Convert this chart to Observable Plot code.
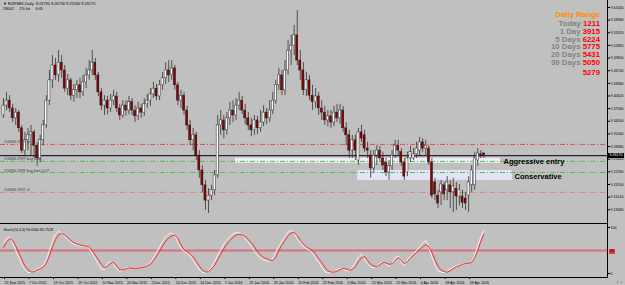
<!DOCTYPE html>
<html><head><meta charset="utf-8">
<script src="https://cdn.jsdelivr.net/npm/d3@7"></script>
<script src="https://cdn.jsdelivr.net/npm/@observablehq/plot@0.6"></script>
<style>
html,body{margin:0;padding:0;background:#c0c0c0;}
#wrap{position:relative;width:625px;height:285px;overflow:hidden;background:#c0c0c0;font-family:"Liberation Sans",Arial,sans-serif;}
#main,#stoch{position:absolute;left:0;}
#main{top:0}
#stoch{top:224px}
.ov{position:absolute;white-space:nowrap;line-height:1;}
.hdr{font-size:3.9px;color:#000;left:3px;}
.dr{font-size:7.8px;font-weight:bold;right:25px;}
.g{color:#808080}.r{color:#ff0000}
.sep{position:absolute;left:0;width:608px;height:1px;background:#000;}
.box{position:absolute;font-size:3.6px;line-height:5px;height:5px;text-align:center;}
</style></head><body>
<div id="wrap">
  <div id="main"></div>
  <div id="stoch"></div>
  <div class="sep" style="top:223px"></div>
  <div class="sep" style="top:277px"></div>
  <div class="ov hdr" style="top:2px">&#9660; EURSEK,Daily&nbsp; 9.26730 9.26730 9.25530 9.26170</div>
  <div class="ov hdr" style="top:7px">18002&nbsp;&nbsp;&nbsp;&nbsp; 2% hit&nbsp;&nbsp;&nbsp;&nbsp; 6:05</div>
  <div class="ov dr" style="top:11px;color:#ff8c00">Daily Range</div>
  <div class="ov dr" style="top:20px"><span class="g">Today </span><span class="r">1211</span></div>
  <div class="ov dr" style="top:28px"><span class="g">1 Day </span><span class="r">3915</span></div>
  <div class="ov dr" style="top:35.5px"><span class="g">5 Days </span><span class="r">6224</span></div>
  <div class="ov dr" style="top:43px"><span class="g">10 Days </span><span class="r">5775</span></div>
  <div class="ov dr" style="top:51px"><span class="g">20 Days </span><span class="r">5431</span></div>
  <div class="ov dr" style="top:58.5px"><span class="g">30 Days </span><span class="r">5050</span></div>
  <div class="ov dr" style="top:69px"><span class="r">5279</span></div>
  <div class="box" style="left:608px;top:152.5px;width:16px;background:#000;color:#fff;">9.26170</div>
  <div class="box" style="left:609px;top:248.5px;width:6px;background:#e03a3a;color:#000;">50</div>
</div>
<script>
// ---- data (EURSEK daily) ----
const open=[9.359,9.383,9.395,9.376,9.352,9.366,9.328,9.274,9.299,9.311,
9.318,9.286,9.255,9.299,9.335,9.395,9.444,9.480,9.456,9.487,
9.468,9.424,9.444,9.407,9.420,9.432,9.415,9.439,9.456,9.468,
9.487,9.456,9.415,9.383,9.395,9.376,9.395,9.405,9.376,9.359,
9.383,9.371,9.391,9.371,9.357,9.376,9.366,9.386,9.395,9.410,
9.424,9.405,9.432,9.449,9.468,9.456,9.473,9.432,9.395,9.407,
9.371,9.335,9.299,9.311,9.262,9.226,9.190,9.153,9.165,9.178,
9.214,9.335,9.347,9.323,9.352,9.371,9.359,9.383,9.395,9.371,
9.352,9.335,9.323,9.347,9.328,9.342,9.366,9.352,9.371,9.395,
9.432,9.456,9.420,9.468,9.516,9.528,9.553,9.492,9.468,9.420,
9.444,9.407,9.391,9.405,9.376,9.366,9.347,9.357,9.342,9.366,
9.352,9.371,9.328,9.311,9.274,9.299,9.250,9.318,9.311,9.279,
9.262,9.231,9.262,9.274,9.255,9.245,9.221,9.236,9.262,9.286,
9.270,9.245,9.221,9.255,9.255,9.265,9.274,9.294,9.279,9.279,
9.245,9.197,9.165,9.173,9.190,9.178,9.190,9.173,9.182,9.163,
9.163,9.158,9.165,9.190,9.190,9.250,9.265,9.2673];
const high=[9.400,9.415,9.407,9.386,9.376,9.371,9.335,9.318,9.328,9.335,
9.323,9.294,9.311,9.347,9.407,9.468,9.504,9.497,9.516,9.504,
9.480,9.458,9.449,9.434,9.444,9.449,9.456,9.473,9.492,9.516,
9.497,9.463,9.424,9.407,9.405,9.410,9.420,9.415,9.386,9.395,
9.395,9.405,9.400,9.383,9.391,9.386,9.400,9.410,9.424,9.439,
9.434,9.444,9.463,9.487,9.492,9.492,9.480,9.439,9.420,9.415,
9.381,9.347,9.328,9.318,9.274,9.238,9.202,9.182,9.190,9.226,
9.359,9.371,9.359,9.366,9.391,9.395,9.400,9.415,9.405,9.386,
9.366,9.352,9.359,9.357,9.371,9.383,9.376,9.395,9.415,9.444,
9.473,9.468,9.492,9.541,9.553,9.577,9.613,9.516,9.487,9.463,
9.456,9.432,9.424,9.415,9.395,9.381,9.371,9.371,9.381,9.386,
9.386,9.381,9.342,9.323,9.311,9.311,9.328,9.335,9.323,9.294,
9.274,9.274,9.286,9.284,9.270,9.255,9.250,9.274,9.299,9.299,
9.279,9.255,9.270,9.284,9.279,9.294,9.306,9.303,9.299,9.286,
9.255,9.207,9.178,9.202,9.197,9.211,9.202,9.207,9.197,9.192,
9.178,9.173,9.211,9.238,9.270,9.279,9.274,9.2673];
const low=[9.352,9.371,9.366,9.342,9.335,9.318,9.267,9.262,9.274,9.262,
9.255,9.236,9.245,9.286,9.328,9.383,9.424,9.444,9.439,9.449,
9.415,9.407,9.395,9.391,9.400,9.400,9.405,9.424,9.444,9.456,
9.444,9.405,9.371,9.359,9.361,9.366,9.383,9.366,9.347,9.352,
9.357,9.361,9.359,9.342,9.347,9.352,9.357,9.376,9.381,9.400,
9.395,9.395,9.420,9.434,9.439,9.444,9.420,9.383,9.376,9.359,
9.323,9.286,9.274,9.250,9.207,9.173,9.129,9.122,9.153,9.165,
9.207,9.311,9.303,9.311,9.335,9.342,9.347,9.371,9.361,9.337,
9.323,9.308,9.311,9.313,9.318,9.332,9.337,9.342,9.361,9.386,
9.420,9.407,9.407,9.456,9.480,9.504,9.480,9.444,9.407,9.405,
9.395,9.371,9.376,9.359,9.347,9.335,9.332,9.328,9.332,9.342,
9.337,9.318,9.286,9.255,9.255,9.250,9.238,9.294,9.270,9.255,
9.207,9.221,9.238,9.245,9.226,9.211,9.202,9.226,9.255,9.260,
9.236,9.202,9.211,9.245,9.250,9.255,9.262,9.270,9.260,9.238,
9.158,9.153,9.134,9.141,9.153,9.153,9.134,9.124,9.129,9.141,
9.134,9.129,9.124,9.173,9.178,9.236,9.255,9.2553];
const close=[9.383,9.395,9.376,9.352,9.366,9.328,9.274,9.299,9.311,9.318,
9.286,9.255,9.299,9.335,9.395,9.444,9.480,9.456,9.487,9.468,
9.424,9.444,9.407,9.420,9.432,9.415,9.439,9.456,9.468,9.487,
9.456,9.415,9.383,9.395,9.376,9.395,9.405,9.376,9.359,9.383,
9.371,9.391,9.371,9.357,9.376,9.366,9.386,9.395,9.410,9.424,
9.405,9.432,9.449,9.468,9.456,9.473,9.432,9.395,9.407,9.371,
9.335,9.299,9.311,9.262,9.226,9.190,9.153,9.165,9.178,9.214,
9.335,9.347,9.323,9.352,9.371,9.359,9.383,9.395,9.371,9.352,
9.335,9.323,9.347,9.328,9.342,9.366,9.352,9.371,9.395,9.432,
9.456,9.420,9.468,9.516,9.528,9.553,9.492,9.468,9.420,9.444,
9.407,9.391,9.405,9.376,9.366,9.347,9.357,9.342,9.366,9.352,
9.371,9.328,9.311,9.274,9.299,9.274,9.318,9.303,9.279,9.274,
9.231,9.262,9.274,9.255,9.238,9.221,9.236,9.262,9.286,9.274,
9.245,9.211,9.255,9.270,9.265,9.279,9.294,9.279,9.286,9.245,
9.165,9.168,9.146,9.192,9.168,9.197,9.173,9.187,9.163,9.178,
9.148,9.146,9.197,9.226,9.255,9.267,9.260,9.2617];
const stochMain=[66,76,80,66,50,35,18,8,2,2,
6,10,12,18,30,50,70,86,92,88,
80,74,68,64,62,60,58,62,54,44,
32,20,10,8,22,26,20,10,4,8,
12,12,10,10,13,14,15,18,24,34,
46,58,70,80,86,88,82,68,54,48,
45,38,28,18,8,2,1,6,14,26,
40,52,64,72,80,86,90,88,84,76,
68,58,48,40,34,30,28,26,32,46,
60,70,80,90,94,86,76,66,58,54,
50,44,34,24,14,4,1,2,4,8,
12,10,6,6,14,24,36,42,32,20,
14,12,16,22,26,20,16,22,34,38,
24,16,30,38,44,50,58,66,72,56,
36,18,6,3,2,5,10,14,17,19,
21,22,21,26,40,60,80,94.06];
const stochSignal=[56,68,76,72,60,45,30,17,8,3,
4,8,10,14,22,38,58,74,84,87,
84,78,72,67,64,62,60,60,58,50,
40,30,20,12,16,22,24,16,8,8,
10,12,11,10,12,13,14,16,20,28,
38,48,60,70,77,82,83,76,62,52,
47,43,36,26,16,8,3,4,10,18,
30,42,54,64,72,78,83,85,84,80,
74,67,58,48,40,35,32,29,28,36,
50,62,72,82,88,89,82,72,64,58,
54,50,42,32,24,14,6,3,3,5,
9,11,10,7,9,15,26,34,37,28,
20,16,15,19,24,23,20,21,28,35,
28,21,26,33,40,45,52,58,63,58,
46,30,16,8,4,3,6,11,15,17,
20,22,22,24,34,50,70,85.75];
const dateLabels=["25 Sep 2015","7 Oct 2015","19 Oct 2015","29 Oct 2015","10 Nov 2015","20 Nov 2015","2 Dec 2015","14 Dec 2015","24 Dec 2015","7 Jan 2016","19 Jan 2016","29 Jan 2016","10 Feb 2016","22 Feb 2016","3 Mar 2016","15 Mar 2016","25 Mar 2016","6 Apr 2016","18 Apr 2016","28 Apr 2016"];
const dateTickBars=[0,8,16,24,32,40,48,56,64,72,80,88,96,104,112,120,128,136,144,152];
const priceTicks=[9.6204,9.5898,9.5592,9.5286,9.4980,9.4674,9.4368,9.4062,9.3756,9.3450,9.3144,9.2838,9.2532,9.2226,9.1920,9.1614,9.1308];
const stochTicks=[0,100];
const orderPrices=[9.289,9.248,9.221,9.173];
const orderLabels=["#16490.2997 tp","#16490.2997 buy 0.50","#16490.2999 buy limit 0.07","#16490.2997 sl"];
const zoneLabels=["Aggressive entry","Conservative"];
const zoneBarStart=[75.8,115.7], zoneBarEnd=[162.4,166.3];
const zoneTop=[9.2555,9.226], zoneBottom=[9.2433,9.202];
const zoneLabelBar=[163.4,167.0], zoneLabelPrice=[9.248,9.211];

// ---- styles ----
const orderColors=["#e84a4a","#4cc04c","#4cc04c","#e07a7a"];
const zoneFills=["#eeeef6","#e4e4f8"];
const xDomain=[-0.98,197.39];
const font="Liberation Sans, Arial, sans-serif";

const bars=open.map((o,i)=>({i,o,h:high[i],l:low[i],c:close[i],up:close[i]>=o}));
const zones=zoneLabels.map((t,k)=>({t,x1:zoneBarStart[k],x2:zoneBarEnd[k],y1:zoneTop[k],y2:zoneBottom[k],fill:zoneFills[k],lx:zoneLabelBar[k],ly:zoneLabelPrice[k]}));
const last=close[close.length-1];

const main=Plot.plot({
  width:625,height:224,marginLeft:0,marginRight:18,marginTop:0,marginBottom:0,
  style:{background:"transparent",fontFamily:font,overflow:"visible"},
  x:{domain:xDomain,axis:null},
  y:{domain:[9.0952,9.6373],axis:null},
  marks:[
    Plot.rect(zones,{x1:"x1",x2:"x2",y1:"y1",y2:"y2",fill:"fill"}),
    ...orderPrices.map((p,k)=>Plot.ruleY([p],{stroke:orderColors[k],strokeWidth:1,strokeDasharray:"5,2,1,2"})),
    Plot.ruleY([last],{stroke:"#000",strokeWidth:1}),
    Plot.ruleX(bars,{x:"i",y1:"l",y2:"h",stroke:"#333",strokeWidth:0.8}),
    Plot.rect(bars,{x1:d=>d.i-0.34,x2:d=>d.i+0.34,y1:"o",y2:"c",fill:d=>d.up?"#ffffff":"#8b0000",stroke:"#1a1a1a",strokeWidth:0.45}),
    Plot.text(orderPrices,{x:xDomain[0],y:d=>d,text:(d,k)=>orderLabels[k],textAnchor:"start",dx:3,dy:-2.2,fontSize:3.8,fill:"#3a3a3a"}),
    Plot.text(zones,{x:"lx",y:"ly",text:"t",textAnchor:"start",fontSize:7.5,fontWeight:"bold",fill:"#000"}),
    Plot.ruleX([xDomain[1]],{stroke:"#000",strokeWidth:1}),
    Plot.axisY(priceTicks,{anchor:"right",tickSize:2,tickPadding:1,fontSize:3.6,tickFormat:d=>d.toFixed(5),stroke:"#000",fill:"#000"})
  ]
});
document.getElementById("main").appendChild(main);

const st=stochMain.map((m,i)=>({i,m,s:stochSignal[i]}));
const stoch=Plot.plot({
  width:625,height:61,marginLeft:0,marginRight:18,marginTop:0,marginBottom:8,
  style:{background:"transparent",fontFamily:font,overflow:"visible"},
  x:{domain:xDomain,axis:null},
  y:{domain:[0,100],range:[49,3],axis:null},
  marks:[
    Plot.ruleY([50],{stroke:"#d7707a",strokeWidth:1.8}),
    Plot.line(st,{x:"i",y:"m",stroke:"#f2f2f2",strokeWidth:1}),
    Plot.line(st,{x:"i",y:"s",stroke:"#ff2a2a",strokeWidth:1}),
    Plot.text(["Stoch(14,3,3) 94.0560 85.7528"],{frameAnchor:"top-left",dx:3,dy:4,fontSize:3.6,fill:"#000",textAnchor:"start"}),
    Plot.ruleX([xDomain[1]],{stroke:"#000",strokeWidth:1}),
    Plot.axisY(stochTicks,{anchor:"right",tickSize:2,tickPadding:1,fontSize:3.6,tickFormat:d=>String(d)}),
    Plot.axisX(dateTickBars,{anchor:"bottom",tickSize:2,tickPadding:1.5,fontSize:3.6,textAnchor:"start",dx:1,tickFormat:(d,i)=>dateLabels[i]})
  ]
});
document.getElementById("stoch").appendChild(stoch);
</script>
</body></html>
